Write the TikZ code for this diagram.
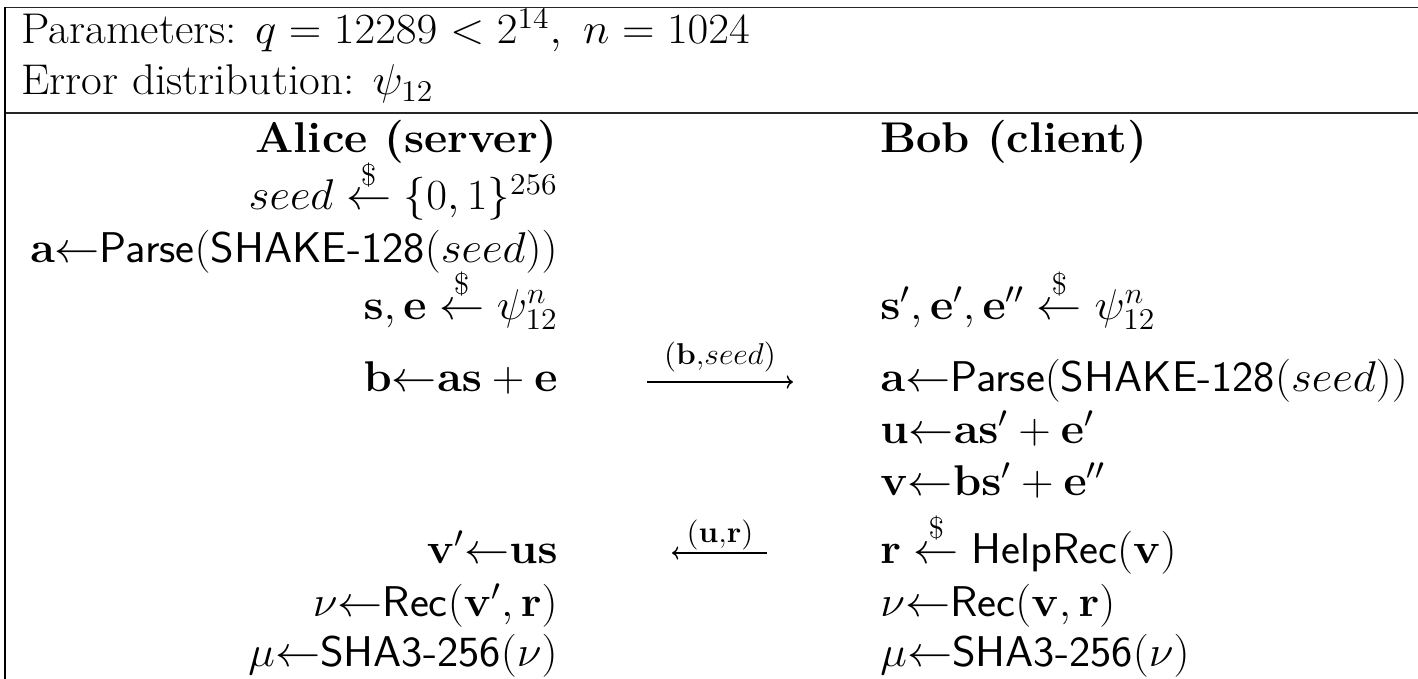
\RequirePackage{fix-cm}
\documentclass[tikz,border=0pt]{standalone}
\usepackage{amsmath,amssymb}
\usepackage{tikz}
\usetikzlibrary{arrows.meta,positioning}

\newcommand{\rnd}{\mathrel{\overset{\$}{\leftarrow}}}
\newcommand{\upd}{{\leftarrow}}

\tikzset{
  txt/.style={font=\fontsize{21.5}{26}\selectfont, inner sep=0pt, xscale=1.05},
  alice/.style={txt, anchor=base east},
  bob/.style={txt, anchor=base west},
  msg/.style={txt, anchor=base},
  hrule/.style={line width=0.9pt, black!85},
}

\begin{document}
\begin{tikzpicture}[x=0.5pt,y=-0.5pt]
				\useasboundingbox (0,0) rectangle (1418,679);
				% table rules
				\draw[hrule](5,7.5)--(1418,7.5);
				\draw[hrule](5,113)--(1418,113);
				\draw[line width=0.7pt](5,7)--(5,679);
				% parameters
				\node[txt,anchor=base west] (param) at (21,44) {Parameters: $q = 12289 < 2^{14},\ n = 1024$};
				\node[txt,anchor=base west] (errd) at (21,95) {Error distribution: $\psi_{12}$};
				% Alice
				\node[alice] (alice) at (558,153) {\textbf{Alice (server)}};
				\node[alice] (aseed) at (558,210) {$seed \rnd \{0,1\}^{256}$};
				\node[alice] (aparse) at (558,263) {$\mathbf{a}\upd\textsf{Parse}(\textsf{SHAKE-128}(seed))$};
				\node[alice] (asmp) at (558,319) {$\mathbf{s},\mathbf{e} \rnd \psi_{12}^{n}$};
				\node[alice] (ab) at (558,391) {$\mathbf{b}\upd\mathbf{a}\mathbf{s}+\mathbf{e}$};
				\node[alice] (avp) at (558,563) {$\mathbf{v}'\upd\mathbf{u}\mathbf{s}$};
				\node[alice] (anu) at (558,616) {$\nu\upd\textsf{Rec}(\mathbf{v}',\mathbf{r})$};
				\node[alice] (amu) at (558,666) {$\mu\upd\textsf{SHA3-256}(\nu)$};
				% Bob
				\node[bob] (bob) at (880,153) {\textbf{Bob (client)}};
				\node[bob] (bsmp) at (880,319) {$\mathbf{s}',\mathbf{e}',\mathbf{e}'' \rnd \psi_{12}^{n}$};
				\node[bob] (bparse) at (880,391) {$\mathbf{a}\upd\textsf{Parse}(\textsf{SHAKE-128}(seed))$};
				\node[bob] (bu) at (880,443) {$\mathbf{u}\upd\mathbf{a}\mathbf{s}'+\mathbf{e}'$};
				\node[bob] (bv) at (880,495) {$\mathbf{v}\upd\mathbf{b}\mathbf{s}'+\mathbf{e}''$};
				\node[bob] (br) at (880,563) {$\mathbf{r} \rnd \textsf{HelpRec}(\mathbf{v})$};
				\node[bob] (bnu) at (880,616) {$\nu\upd\textsf{Rec}(\mathbf{v},\mathbf{r})$};
				\node[bob] (bmu) at (880,666) {$\mu\upd\textsf{SHA3-256}(\nu)$};
				% messages
				\coordinate (m1s) at (647,382);
				\coordinate (m1e) at (793,382);
				\draw[->,line width=0.7pt](m1s)--(m1e);
				\node[msg] (m1) at (720,364) {$\scriptstyle(\mathbf{b},seed)$};
				\coordinate (m2s) at (672,553);
				\coordinate (m2e) at (767,553);
				\draw[->,line width=0.7pt](m2e)--(m2s);
				\node[msg] (m2) at (720,542) {$\scriptstyle(\mathbf{u},\mathbf{r})$};
			\end{tikzpicture}
\end{document}
